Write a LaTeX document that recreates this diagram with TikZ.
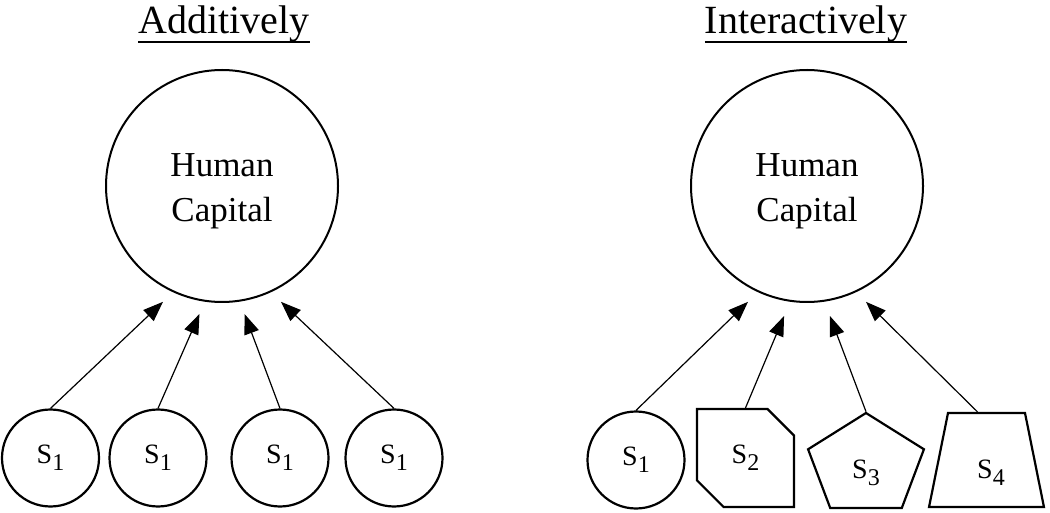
\documentclass[tikz,border=0pt]{standalone}
\usepackage{fontspec}
\setmainfont{Liberation Serif}
\usetikzlibrary{arrows.meta}
\usetikzlibrary{calc}
\usetikzlibrary{shapes.geometric}
\usetikzlibrary{shapes.misc}

\newcommand{\headline}[1]{\setbox0=\hbox{#1}\rlap{\rule[-8.7pt]{\wd0}{2pt}}\box0}
\newcommand{\slab}[1]{S\raisebox{-7pt}{\fontsize{24}{24}\selectfont #1}}

\tikzset{
  title/.style={anchor=base, inner sep=0pt, font=\fontsize{40}{48}\selectfont},
  hc/.style={draw, circle, line width=2pt, minimum size=232pt, align=center,
    font=\fontsize{35}{45}\selectfont},
  src/.style={draw, line width=2.2pt, inner sep=0pt, font=\fontsize{28}{30}\selectfont},
  feed/.style={-{Triangle[length=20pt,width=15pt]}, line width=1.2pt}
}

\begin{document}
\begin{tikzpicture}[x=1pt, y=1pt]

      \useasboundingbox (0,0) rectangle (1050,512);

      % titles
      \node [title] (tA) at (224,478) {\headline{Additively}};
      \node [title] (tB) at (806,478) {\headline{Interactively}};

      % human capital
      \node [hc] (hcA) at (222,326) {\rule{0pt}{33pt}Human\\Capital};
      \node [hc] (hcB) at (807,326) {\rule{0pt}{33pt}Human\\Capital};

      % skills, additive
      \node [src, circle, minimum size=97pt] (a1) at (50.5,54) {\slab{1}};
      \node [src, circle, minimum size=97pt] (a2) at (158,54) {\slab{1}};
      \node [src, circle, minimum size=97pt] (a3) at (280,54) {\slab{1}};
      \node [src, circle, minimum size=97pt] (a4) at (394,54) {\slab{1}};

      % skills, interactive
      \node [src, circle, minimum size=97pt] (b1) at (636,52) {\slab{1}};
      \node [src, chamfered rectangle, chamfered rectangle corners={north east,south west},
        chamfered rectangle xsep=17pt, chamfered rectangle ysep=17pt,
        minimum width=97pt, minimum height=98pt]
        (b2) at (745.5,54) {\slab{2}};
      \node [src, regular polygon, regular polygon sides=5, minimum size=105pt, xscale=1.16]
        (b3) at (866,46.5) {\scalebox{0.862}[1]{\raisebox{-7pt}[\height][\depth]{\slab{3}}}};
      \node [src, trapezium, trapezium left angle=78.6, trapezium right angle=78.6,
        text width=77pt, align=center, text height=65pt, text depth=29pt]
        (b4) at (986.5,52) {\hspace*{9pt}\slab{4}};

      % arrow tips
      \coordinate (ta1) at ($(hcA.center)+(243:130)$);
      \coordinate (ta2) at ($(hcA.center)+(260:130)$);
      \coordinate (ta3) at ($(hcA.center)+(280:130)$);
      \coordinate (ta4) at ($(hcA.center)+(297:130)$);
      \coordinate (tb1) at ($(hcB.center)+(243:130)$);
      \coordinate (tb2) at ($(hcB.center)+(260:132)$);
      \coordinate (tb3) at ($(hcB.center)+(280:132)$);
      \coordinate (tb4) at ($(hcB.center)+(297:130)$);

      \draw [feed] (a1.north) -- (ta1);
      \draw [feed] (a2.north) -- (ta2);
      \draw [feed] (a3.north) -- (ta3);
      \draw [feed] (a4.north) -- (ta4);
      \draw [feed] (b1.north) -- (tb1);
      \draw [feed] (b2.north) -- (tb2);
      \draw [feed] (b3.north) -- (tb3);
      \draw [feed] ([xshift=-9pt]b4.north) -- (tb4);

    \end{tikzpicture}
\end{document}
